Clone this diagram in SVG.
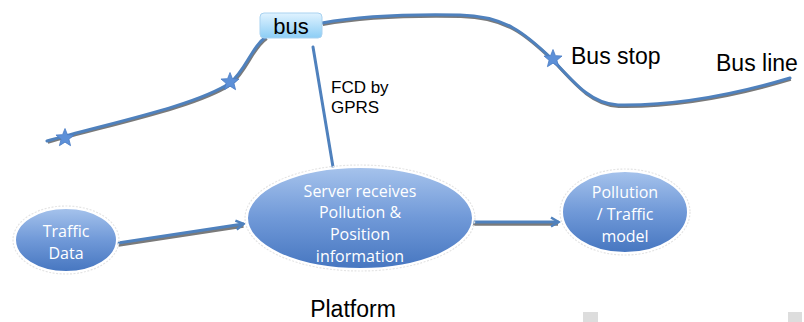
<svg xmlns="http://www.w3.org/2000/svg" width="804" height="322" viewBox="0 0 804 322">
<defs>
<linearGradient id="ell" x1="0" y1="0" x2="0" y2="1">
<stop offset="0" stop-color="#a6c3ec"/>
<stop offset="0.5" stop-color="#7099d8"/>
<stop offset="1" stop-color="#4676c0"/>
</linearGradient>
<linearGradient id="box" x1="0" y1="0" x2="0" y2="1">
<stop offset="0" stop-color="#e0f3ff"/>
<stop offset="1" stop-color="#8ccdf5"/>
</linearGradient>
<marker id="arr" markerWidth="12" markerHeight="12" refX="9" refY="6" orient="auto" markerUnits="userSpaceOnUse">
<path d="M2,1.5 L9.5,6 L2,10.5" fill="none" stroke="#4f81bd" stroke-width="2.5" stroke-linejoin="miter"/>
</marker>
<path id="star" d="M0,-9.5 L2.45,-3.36 L9.03,-2.94 L3.95,1.28 L5.58,7.69 L0,4.15 L-5.58,7.69 L-3.95,1.28 L-9.03,-2.94 L-2.45,-3.36 Z"/>
</defs>
<style>
.shadow{fill:none;stroke:#7a7a7a;stroke-width:3}
.line{fill:none;stroke:#4f81bd;stroke-width:3;stroke-linecap:round}
.ellipse{fill:url(#ell);stroke:#ffffff;stroke-width:2}
.halo{fill:none;stroke:#e4e4e4;stroke-width:1.2;stroke-dasharray:2 1.5}
.etext{font-family:"Open Sans",sans-serif;font-size:16px;fill:#ffffff;text-anchor:middle}
.label{font-family:"Liberation Sans",Arial,sans-serif;fill:#000000}
.starfill{fill:#5d90d8;stroke:#4a7cc4;stroke-width:0.8}
</style>
<rect width="804" height="322" fill="#ffffff"/>
<g id="connectors">
<g id="bus-line">
<path class="shadow" transform="translate(0.8,1.4)" d="M47,141 C 110,123 195,106 230,83 C 246,70 252,46 266,37"/>
<path class="line" d="M47,141 C 110,123 195,106 230,83 C 246,70 252,46 266,37"/>
<path class="shadow" transform="translate(0.8,1.4)" d="M322,23 C 360,16 410,14 460,15 C 505,16 525,33 553,60 C 575,84 592,104 618,105 C 680,106 740,93 790,78"/>
<path class="line" d="M322,23 C 360,16 410,14 460,15 C 505,16 525,33 553,60 C 575,84 592,104 618,105 C 680,106 740,93 790,78"/>
</g>
<line class="line" x1="313" y1="47" x2="333" y2="167" stroke-width="2.5"/>
<line class="shadow" x1="118" y1="244" x2="243" y2="225" transform="translate(0.5,1.2)"/>
<line class="line" x1="118" y1="243" x2="243" y2="224" marker-end="url(#arr)"/>
<line class="shadow" x1="472" y1="223" x2="558" y2="223" transform="translate(0,1.2)"/>
<line class="line" x1="472" y1="222" x2="558" y2="222" marker-end="url(#arr)"/>
</g>
<g id="stops">
<use href="#star" class="starfill" x="65" y="138"/>
<use href="#star" class="starfill" x="230" y="82"/>
<use href="#star" class="starfill" x="553" y="59"/>
</g>
<g id="bus">
<rect x="260" y="13" width="62" height="25" rx="4" fill="url(#box)" stroke="#a9d2f0" stroke-width="1"/>
<text class="label" x="291" y="34" font-size="22" text-anchor="middle">bus</text>
</g>
<text class="label" x="331" y="93" font-size="17">FCD by</text>
<text class="label" x="331" y="113" font-size="17">GPRS</text>
<text class="label" x="571" y="64" font-size="23">Bus stop</text>
<text class="label" x="716" y="71" font-size="23">Bus line</text>
<g id="traffic-data">
<ellipse class="halo" cx="66" cy="240" rx="53" ry="34"/>
<ellipse class="ellipse" cx="66" cy="240" rx="51" ry="32"/>
<text class="etext" x="66" y="237">Traffic</text>
<text class="etext" x="66" y="259">Data</text>
</g>
<g id="server">
<ellipse class="halo" cx="360" cy="218" rx="115" ry="53"/>
<ellipse class="ellipse" cx="360" cy="218" rx="113" ry="51"/>
<text class="etext" x="360" y="197">Server receives</text>
<text class="etext" x="360" y="218">Pollution &amp;</text>
<text class="etext" x="360" y="240">Position</text>
<text class="etext" x="360" y="262">information</text>
</g>
<g id="model">
<ellipse class="halo" cx="625" cy="212" rx="65" ry="43"/>
<ellipse class="ellipse" cx="625" cy="212" rx="63" ry="41"/>
<text class="etext" x="625" y="198">Pollution</text>
<text class="etext" x="625" y="220">/ Traffic</text>
<text class="etext" x="625" y="242">model</text>
</g>
<text class="label" x="353" y="317" font-size="23" text-anchor="middle">Platform</text>
<rect x="583" y="312" width="15" height="10" fill="#dddddd"/>
<rect x="788" y="312" width="14" height="10" fill="#dddddd"/>
</svg>
